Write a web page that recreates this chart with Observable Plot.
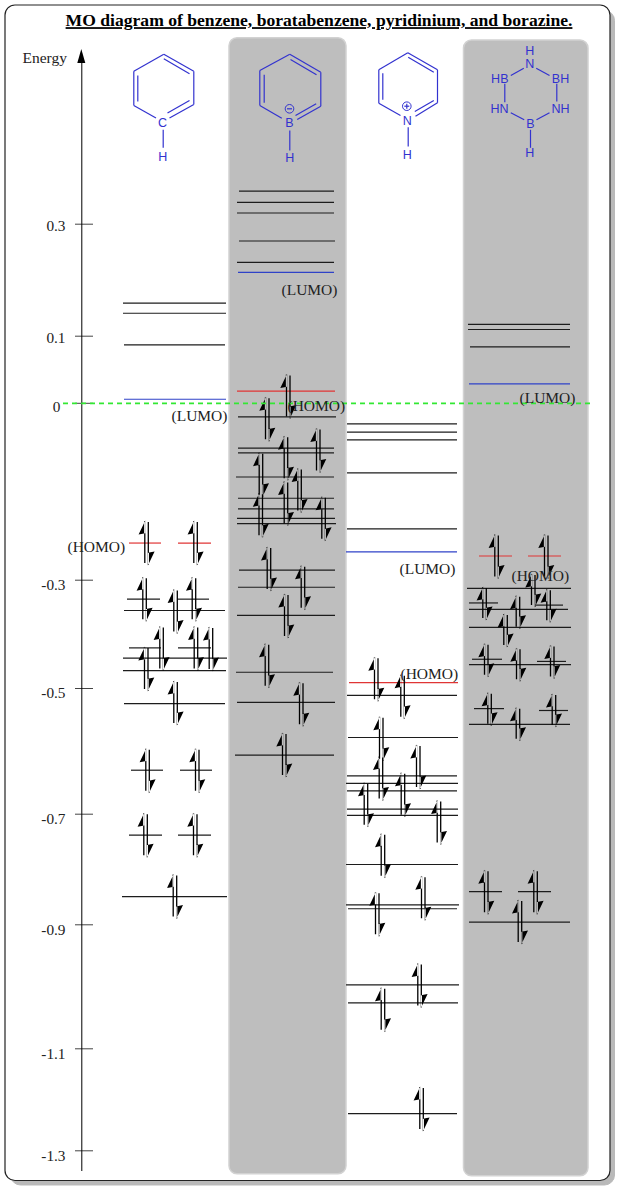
<!DOCTYPE html>
<html>
<head>
<meta charset="utf-8">
<script src="https://cdn.jsdelivr.net/npm/d3@7"></script>
<script src="https://cdn.jsdelivr.net/npm/@observablehq/plot@0.6"></script>
<style>
html,body{margin:0;padding:0;background:#fff}
svg{display:block}
</style>
</head>
<body>
<div id="chart"></div>
<script>
// Energy axis as drawn in the diagram (its ticks are hand placed, not quite even)
const tickValues = [0.3, 0.1, 0, -0.3, -0.5, -0.7, -0.9, -1.1, -1.3];
const tickRows   = [223.7, 335.7, 402.8, 579.7, 688, 813.7, 924.3, 1048.3, 1150.3];

// Orbital levels: [energy, left, right, kind]
const benzeneLevels = [
  [0.159,123,226,"empty"],[0.141,123,226,"empty"],[0.087,124,225,"empty"],[0.006,124,226,"lumo"],
  [-0.237,129,161,"homo"],[-0.237,178,211,"homo"],
  [-0.335,127,160,"filled"],[-0.335,177,209,"filled"],[-0.356,124,225,"filled"],
  [-0.425,129,161,"filled"],[-0.425,178,211,"filled"],[-0.444,123,227,"filled"],[-0.467,123,226,"filled"],
  [-0.524,124,225,"filled"],[-0.630,131,163,"filled"],[-0.630,180,212,"filled"],
  [-0.738,129,162,"filled"],[-0.738,178,211,"filled"],[-0.849,122,227,"filled"]
];
const boratabenzeneLevels = [
  [0.359,239,334,"empty"],[0.339,237,334,"empty"],[0.320,237,334,"empty"],[0.270,239,335,"empty"],[0.232,237,334,"empty"],
  [0.214,238,334,"lumo"],[0.018,237,335,"homo"],
  [-0.023,238,336,"filled"],[-0.076,238,334,"filled"],[-0.084,238,334,"filled"],[-0.125,236,334,"filled"],
  [-0.161,238,334,"filled"],[-0.179,238,334,"filled"],[-0.195,237,335,"filled"],[-0.204,237,336,"filled"],
  [-0.283,239,335,"filled"],[-0.313,238,335,"filled"],[-0.365,237,335,"filled"],[-0.470,236,333,"filled"],
  [-0.522,237,335,"filled"],[-0.606,235,334,"filled"]
];
const pyridiniumLevels = [
  [-0.035,347,457,"empty"],[-0.049,347,457,"empty"],[-0.062,347,457,"empty"],[-0.118,347,457,"empty"],[-0.213,347,457,"empty"],
  [-0.252,346,457,"lumo"],[-0.489,349,458,"homo"],
  [-0.511,347,457,"filled"],[-0.578,348,458,"filled"],[-0.639,347,457,"filled"],[-0.651,346,458,"filled"],
  [-0.663,347,457,"filled"],[-0.692,347,458,"filled"],[-0.702,347,458,"filled"],[-0.791,346,458,"filled"],
  [-0.864,346,459,"filled"],[-0.871,348,457,"filled"],[-0.997,346,459,"filled"],[-1.026,348,458,"filled"],[-1.227,348,457,"filled"]
];
const borazineLevels = [
  [0.121,468,570,"empty"],[0.112,468,570,"empty"],[0.084,470,570,"empty"],[0.029,469,570,"lumo"],
  [-0.259,479,512,"homo"],[-0.259,528,561,"homo"],
  [-0.315,467,571,"filled"],[-0.342,469,498,"filled"],[-0.346,535,563,"filled"],[-0.354,469,568,"filled"],
  [-0.387,469,571,"filled"],[-0.446,472,502,"filled"],[-0.450,537,566,"filled"],[-0.456,469,571,"filled"],
  [-0.532,474,504,"filled"],[-0.535,539,568,"filled"],[-0.557,469,570,"filled"],
  [-0.840,469,502,"filled"],[-0.840,518,551,"filled"],[-0.895,469,570,"filled"]
];

// Electron pairs: [column position, energy at the middle of the pair]
const benzenePairs = [
  [144.3,-0.237],[193.3,-0.237],[142.3,-0.335],[173.3,-0.358],[191.7,-0.335],[159.3,-0.426],[193.7,-0.426],
  [208.7,-0.427],[144,-0.464],[173.3,-0.523],[145.3,-0.631],[195,-0.631],[143.3,-0.738],[193,-0.738],[172.7,-0.849]
];
const boratabenzenePairs = [
  [286,0.010],[265,-0.027],[283.7,-0.093],[316,-0.080],[258.7,-0.121],[258.5,-0.190],[283.7,-0.170],[297.3,-0.148],
  [321.3,-0.196],[266.7,-0.281],[300.7,-0.314],[284,-0.366],[264.7,-0.458],[299,-0.525],[282,-0.606]
];
const pyridiniumPairs = [
  [374,-0.483],[400.3,-0.513],[379,-0.580],[378.7,-0.643],[416,-0.625],[400.7,-0.669],[363.7,-0.685],[436.7,-0.715],
  [380.7,-0.775],[375,-0.881],[421,-0.852],[417.3,-0.998],[380.7,-1.037],[419.3,-1.218]
];
const borazinePairs = [[494.3,-0.260],[544,-0.260],[484,-0.841],[533.3,-0.841],[517.7,-0.895]];
const borazineShortPairs = [
  [531,-0.319],[482.3,-0.343],[515.7,-0.359],[546.3,-0.347],[503.3,-0.393],[484,-0.448],[516,-0.456],[550,-0.451],
  [487.3,-0.533],[515.7,-0.557],[551.7,-0.535]
];

// Frontier orbital labels: [text, left, energy]
const orbitalLabels = [
  ["(LUMO)",171,-0.022],["(HOMO)",67,-0.243],["(HOMO)",287,-0.004],["(LUMO)",281,0.182],
  ["(LUMO)",399,-0.281],["(HOMO)",400,-0.474],["(LUMO)",519,0.008],["(HOMO)",511,-0.293]
];

// Shaded columns: [left, right, top energy, bottom energy]
const shadedColumns = [[229,346,0.632,-1.346],[463.5,588,0.628,-1.350]];

// Structure sketches, read on the page's rows
const structureBonds = [
  [163.3,53.7,193.3,70.7],[193.3,70.7,193.3,104],[193.3,104,169,117.5],[155.5,117.5,133.3,105],[133.3,105,133.3,70.7],[133.3,70.7,163.3,53.7],
  [163.3,58.3,189,73.3],[189,100,167,112.5],[137.3,75,137.3,101],[162.7,129.3,162.7,147.3],
  [289.3,53.7,320.3,71.7],[320.3,71.7,320.3,105.7],[320.3,105.7,296.7,119],[281.3,117.7,259.3,105],[259.3,105,259.3,70],[259.3,70,289.3,53.7],
  [290,59,316,74.3],[315.7,103.3,295,115],[263.7,74.3,263.7,102.3],[289.3,130,289.3,150],[286.5,108.3,291.5,108.3],
  [407.3,52.3,437,69.3],[437,69.3,437,102.3],[437,102.3,415,115.7],[400,115,378.3,102.7],[378.3,102.7,378.3,69.3],[378.3,69.3,407.3,52.3],
  [407.7,56.7,433.3,71.7],[433.3,100,414.3,111],[382.3,72.7,382.3,99.3],[407.7,126.7,407.7,146],[403.8,105.7,408.8,105.7],[406.3,103.2,406.3,108.2],
  [523.3,67.7,510.3,75],[535.7,67.7,549,75],[504.3,83.3,504.3,101.7],[556.3,83.3,556.3,101],[510.3,112.3,523.7,119.3],[549,112.3,536,119.3],[530,129.3,530,147.3]
];
const structureAtoms = [
  ["C",162,122],["H",162.3,156.7],["B",289,122.3],["H",289.3,157],["N",406.7,120],["H",406.7,154],
  ["H",529.3,50.8],["N",529.3,63.3],["HB",499.3,78.3],["BH",560,78.3],["HN",499,108.3],["NH",560,108.3],["B",530,123.3],["H",529.3,152.7]
];
const chargeRings = [[289,108.3],[406.3,105.7]];

const ink = "#1c1c1c", blue = "#3232cf";
const levelColor = {empty:ink, filled:ink, lumo:"#2f42c8", homo:"#e03535"};
const row = d3.scaleLinear(tickValues, tickRows);
const energyAt = py => row.invert(py);

const allLevels = [...benzeneLevels, ...boratabenzeneLevels, ...pyridiniumLevels, ...borazineLevels];
const allPairs = [...benzenePairs, ...boratabenzenePairs, ...pyridiniumPairs, ...borazinePairs];

// A spin-up / spin-down pair of half-headed arrows, centred on its point
const pairGlyph = half => ({
  draw(c) {
    const poly = pts => { c.moveTo(...pts[0]); pts.slice(1).forEach(p => c.lineTo(...p)); c.closePath(); };
    poly([[-0.65,-half],[0.65,-half],[0.65,half-2],[-0.65,half-2]]);
    poly([[2.85,-half+1],[4.15,-half+1],[4.15,half],[2.85,half]]);
    poly([[0.5,-half-0.5],[-6.2,-half+13.5],[0.5,-half+12.2]]);
    poly([[3.1,half+0.5],[9.8,half-13.5],[3.1,half-12.2]]);
  }
});

const serif = "'Liberation Serif', serif", sans = "'Liberation Sans', sans-serif";
const axisText = {anchor: "left", tickSize: 0, tickPadding: 0, tickFormat: d => String(d), fontSize: 15.3, fontFamily: serif, fill: "#222"};

const chart = Plot.plot({
  width: 620, height: 1190,
  margin: 0,
  style: {background: "#fff", overflow: "visible"},
  x: {domain: [0, 620], range: [0, 620], axis: null},
  y: {type: "linear", domain: tickValues, range: tickRows, axis: null},
  marks: [
    Plot.frame({fill: "#b9b9b9", stroke: "#b9b9b9", dx: 5, dy: 5, insetLeft: 5, insetTop: 5, insetRight: 11, insetBottom: 10.5, rx: 10}),
    Plot.frame({fill: "#fff", stroke: "#222", strokeWidth: 1.2, insetLeft: 4.5, insetTop: 4.5, insetRight: 10.5, insetBottom: 10, rx: 10}),
    Plot.rect(shadedColumns, {x1: d => d[0], x2: d => d[1], y1: d => d[2], y2: d => d[3], fill: "#bebebe", stroke: "#d2d2d2", strokeWidth: 1.5, rx: 8}),

    // Energy axis
    Plot.axisY(tickValues.slice(0, 2), {...axisText, x: 65, dy: 1.5}),
    Plot.axisY(tickValues.slice(2, 3), {...axisText, x: 60, dy: 4}),
    Plot.axisY(tickValues.slice(3), {...axisText, x: 65, dy: 5}),
    Plot.ruleY(tickValues, {x1: 75, x2: 93, stroke: "#444", strokeWidth: 1}),
    Plot.ruleX([81.3], {y1: energyAt(62), y2: energyAt(1171), stroke: "#000", strokeWidth: 1}),
    Plot.area([[77.3,63,63],[81.3,49,63],[85.3,63,63]], {x1: d => d[0], y1: d => energyAt(d[1]), y2: d => energyAt(d[2]), fill: "#000", curve: "linear"}),
    Plot.text(["Energy"], {x: 22, y: energyAt(57.5), textAnchor: "start", fontSize: 15.5, fontFamily: serif, fill: "#222"}),

    // Levels
    Plot.ruleY(allLevels, {y: d => d[0], x1: d => d[1], x2: d => d[2], stroke: d => levelColor[d[3]], strokeWidth: 1.2}),
    Plot.dot(allPairs, {x: d => d[0], y: d => d[1], symbol: pairGlyph(22), fill: "#000", stroke: "none"}),
    Plot.dot(borazineShortPairs, {x: d => d[0], y: d => d[1], symbol: pairGlyph(16.5), fill: "#000", stroke: "none"}),

    // Zero line
    Plot.ruleY([0], {x1: 63, x2: 590, stroke: "#33e833", strokeWidth: 1.8, strokeOpacity: 1, strokeDasharray: "5,4"}),

    Plot.text(orbitalLabels, {text: d => d[0], x: d => d[1], y: d => d[2], textAnchor: "start", fontSize: 15.5, fontFamily: serif, fill: "#222"}),

    // Structures
    Plot.link(structureBonds, {x1: d => d[0], y1: d => energyAt(d[1]), x2: d => d[2], y2: d => energyAt(d[3]), stroke: blue, strokeWidth: 1.2}),
    Plot.dot(chargeRings, {x: d => d[0], y: d => energyAt(d[1]), r: 4.3, stroke: blue, strokeWidth: 1, fill: "none"}),
    Plot.text(structureAtoms, {text: d => d[0], x: d => d[1], y: d => energyAt(d[2]), fontSize: 12.5, fontFamily: sans, fill: blue}),

    // Title
    Plot.text(["MO diagram of benzene, boratabenzene, pyridinium, and borazine."], {
      x: 318.5, y: energyAt(20), fontSize: 17.6, fontWeight: "bold", fontFamily: serif, fill: "#000",
      render(index, scales, values, dims, ctx, next) {
        const g = next(index, scales, values, dims, ctx);
        d3.select(g).style("text-decoration", "underline");
        return g;
      }
    })
  ]
});
document.getElementById("chart").append(chart);
</script>
</body>
</html>
